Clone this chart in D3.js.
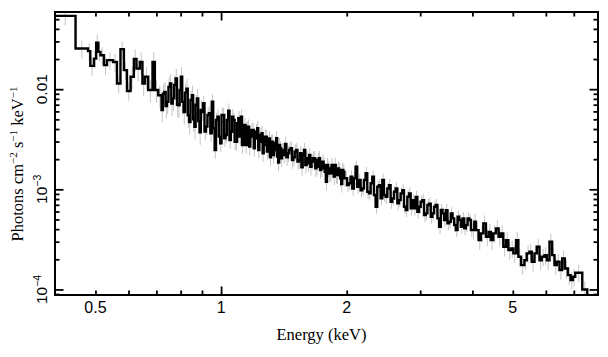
<!DOCTYPE html>
<html><head><meta charset="utf-8">
<script src="https://cdn.jsdelivr.net/npm/d3@7"></script>
<style>body{margin:0;background:#fff}</style>
</head><body>
<svg id="c" width="608" height="357"></svg>
<script>
// Bin lower edges in keV, per energy segment (last edge closes the spectrum)
const edgesSoft = [0.400, 0.448, 0.480, 0.486, 0.496, 0.502, 0.508, 0.514, 0.524, 0.533, 0.551, 0.563, 0.574,
  0.585, 0.595, 0.607, 0.618, 0.627, 0.639, 0.648, 0.657, 0.669, 0.685, 0.694, 0.707];
const edgesMid = [0.720, 0.7255, 0.731, 0.7365, 0.742, 0.748, 0.754, 0.760, 0.766, 0.772, 0.778, 0.784, 0.790,
  0.7955, 0.801, 0.807, 0.813, 0.8195, 0.826, 0.832, 0.838, 0.8445, 0.851, 0.857, 0.863, 0.869, 0.875, 0.8815,
  0.888, 0.894, 0.900];
const edgesPeak1 = [0.905, 0.9125, 0.920, 0.9275, 0.935, 0.9425, 0.950, 0.9575, 0.965, 0.9725, 0.980, 0.9875,
  0.995, 1.0025, 1.010, 1.0175, 1.025, 1.0325, 1.040, 1.0475, 1.055, 1.0625, 1.070, 1.0775, 1.085, 1.0925, 1.100,
  1.1075, 1.115, 1.1225, 1.130, 1.1375, 1.145, 1.1525, 1.160, 1.1675, 1.175, 1.1825, 1.190, 1.1975, 1.205, 1.2125,
  1.220, 1.2275, 1.235, 1.2425, 1.250, 1.2575, 1.265, 1.2725, 1.280, 1.2875, 1.295, 1.3025, 1.310, 1.3175, 1.325,
  1.3325, 1.340, 1.3475, 1.355, 1.3625, 1.370, 1.3775, 1.385, 1.3925];
const edgesPeak2 = [1.400, 1.41125, 1.4225, 1.43375, 1.445, 1.45625, 1.4675, 1.47875, 1.490, 1.50125, 1.5125,
  1.52375, 1.535, 1.54625, 1.5575, 1.56875, 1.580, 1.59125, 1.6025, 1.61375, 1.625, 1.63625, 1.6475, 1.65875,
  1.670, 1.68125, 1.6925, 1.70375, 1.715, 1.72625, 1.7375, 1.74875, 1.760, 1.77125, 1.7825, 1.79375, 1.805,
  1.81625, 1.8275, 1.83875, 1.850, 1.86125, 1.8725, 1.88375, 1.895, 1.90625, 1.9175, 1.92875, 1.940, 1.95125,
  1.9625, 1.97375];
const edgesHard1 = [1.985, 2.004, 2.024, 2.043, 2.062, 2.081, 2.100, 2.119, 2.139, 2.159, 2.179, 2.199, 2.220,
  2.240, 2.261, 2.282, 2.303, 2.324, 2.346, 2.367, 2.389, 2.411, 2.434, 2.456, 2.479, 2.502, 2.525, 2.548, 2.572,
  2.596, 2.620, 2.644, 2.669, 2.693, 2.718, 2.743, 2.769, 2.794, 2.820, 2.846, 2.873, 2.899, 2.926, 2.953, 2.981,
  3.008, 3.036, 3.064, 3.093, 3.121, 3.150, 3.179, 3.209, 3.238, 3.268, 3.299, 3.330, 3.361, 3.392, 3.423, 3.455,
  3.487, 3.519, 3.552, 3.585, 3.618, 3.652, 3.686, 3.720, 3.755, 3.790, 3.825, 3.860, 3.896, 3.932, 3.969, 4.006,
  4.042];
const edgesHard2 = [4.079, 4.140, 4.194, 4.249, 4.311, 4.375, 4.431, 4.489, 4.556, 4.624, 4.685, 4.745, 4.816,
  4.879, 4.951, 5.015, 5.090, 5.156, 5.233, 5.330, 5.400, 5.480, 5.551, 5.634, 5.707, 5.792, 5.867, 5.954, 6.033,
  6.122, 6.213, 6.293, 6.375, 6.470, 6.566, 6.664, 6.775, 6.876, 6.966, 7.056, 7.335, 7.540];
const edgeMax = 8.0;

// Photons cm^-2 s^-1 keV^-1, one per bin, same segments
const fluxSoft = [0.054, 0.0255, 0.0240, 0.0171, 0.0202, 0.0292, 0.0236, 0.0218, 0.0174, 0.0195, 0.0187, 0.0114,
  0.0251, 0.0155, 0.0096, 0.0133, 0.0200, 0.0161, 0.0187, 0.0114, 0.0133, 0.0098, 0.0187, 0.0098, 0.0087];
const fluxMid = [0.0062, 0.0090, 0.0094, 0.0068, 0.0075, 0.0105, 0.0114, 0.0072, 0.0081, 0.0110, 0.0128, 0.0070,
  0.0069, 0.0098, 0.0133, 0.0075, 0.0059, 0.0092, 0.0101, 0.0055, 0.0047, 0.0078, 0.0087, 0.0050, 0.0042, 0.0070,
  0.0081, 0.0048, 0.0037, 0.0062, 0.0059];
const fluxPeak1 = [7.24e-3, 3.77e-3, 4.23e-3, 5.53e-3, 5.75e-3, 3.63e-3, 7.52e-3, 4.07e-3, 2.47e-3, 4.93e-3,
  5.32e-3, 3.36e-3, 2.88e-3, 5.53e-3, 5.53e-3, 3.23e-3, 3.49e-3, 4.93e-3, 6.11e-3, 3.11e-3, 3.76e-3, 5.32e-3,
  4.93e-3, 2.99e-3, 2.99e-3, 4.57e-3, 5.13e-3, 3.36e-3, 5.32e-3, 2.77e-3, 3.36e-3, 4.40e-3, 2.77e-3, 4.07e-3,
  4.23e-3, 2.67e-3, 3.36e-3, 3.92e-3, 3.91e-3, 2.57e-3, 3.24e-3, 3.77e-3, 4.07e-3, 2.47e-3, 2.99e-3, 3.49e-3,
  3.63e-3, 2.29e-3, 2.77e-3, 3.36e-3, 3.36e-3, 2.38e-3, 2.57e-3, 3.23e-3, 2.09e-3, 2.99e-3, 2.99e-3, 2.20e-3,
  2.47e-3, 2.88e-3, 3.24e-3, 2.12e-3, 1.85e-3, 2.77e-3, 2.57e-3, 2.04e-3];
const fluxPeak2 = [2.47e-3, 2.20e-3, 2.84e-3, 2.09e-3, 2.29e-3, 2.47e-3, 2.57e-3, 1.96e-3, 2.09e-3, 2.38e-3,
  2.47e-3, 1.89e-3, 1.96e-3, 2.29e-3, 1.66e-3, 2.20e-3, 2.47e-3, 1.75e-3, 2.04e-3, 1.82e-3, 2.20e-3, 1.68e-3,
  1.89e-3, 2.04e-3, 2.04e-3, 1.62e-3, 1.68e-3, 1.96e-3, 2.04e-3, 1.56e-3, 1.62e-3, 1.89e-3, 1.75e-3, 1.50e-3,
  1.19e-3, 1.75e-3, 1.62e-3, 1.44e-3, 1.445e-3, 1.75e-3, 1.56e-3, 1.34e-3, 1.75e-3, 1.39e-3, 1.39e-3, 1.62e-3,
  1.56e-3, 1.29e-3, 1.13e-3, 1.56e-3, 1.50e-3, 1.29e-3];
const fluxHard1 = [1.29e-3, 1.10e-3, 1.15e-3, 1.34e-3, 1.02e-3, 1.29e-3, 1.68e-3, 1.06e-3, 1.24e-3, 9.8e-4,
  1.02e-3, 1.24e-3, 1.45e-3, 9.47e-4, 9.1e-4, 1.15e-3, 1.34e-3, 8.77e-4, 6.7e-4, 1.06e-3, 1.10e-3, 8.12e-4,
  1.24e-3, 8.77e-4, 8.4e-4, 1.02e-3, 1.10e-3, 7.52e-4, 8.1e-4, 9.47e-4, 1.02e-3, 7.24e-4, 7.8e-4, 9.1e-4,
  9.8e-4, 6.7e-4, 6.2e-4, 8.44e-4, 9.1e-4, 6.45e-4, 7.8e-4, 6.45e-4, 8.4e-4, 5.97e-4, 6.7e-4, 7.52e-4, 7.8e-4,
  5.53e-4, 5.75e-4, 6.97e-4, 7.2e-4, 5.32e-4, 5.75e-4, 6.7e-4, 6.97e-4, 5.13e-4, 4.22e-4, 6.21e-4, 5.75e-4,
  4.93e-4, 6.2e-4, 4.57e-4, 4.75e-4, 5.75e-4, 5.13e-4, 4.40e-4, 3.91e-4, 5.32e-4, 4.93e-4, 4.23e-4, 5.13e-4,
  4.07e-4, 4.39e-4, 5.13e-4, 4.93e-4, 3.92e-4, 3.91e-4, 4.75e-4];
const fluxHard2 = [3.91e-4, 3.11e-4, 3.63e-4, 4.57e-4, 3.36e-4, 3.76e-4, 3.11e-4, 3.63e-4, 4.07e-4, 3.36e-4,
  3.63e-4, 2.67e-4, 3.11e-4, 2.47e-4, 2.57e-4, 2.29e-4, 3.11e-4, 2.12e-4, 1.75e-4, 1.96e-4, 2.29e-4, 2.38e-4,
  1.89e-4, 2.29e-4, 2.67e-4, 1.96e-4, 2.12e-4, 2.20e-4, 1.96e-4, 2.99e-4, 2.20e-4, 1.75e-4, 1.89e-4, 1.56e-4,
  2.04e-4, 1.62e-4, 1.39e-4, 1.24e-4, 1.34e-4, 1.47e-4, 1.00e-4, 7.0e-5];

// Typical fractional 1-sigma error by energy band
const errBandEdges = [0.4, 0.6, 0.9, 2.0, 4.0, 8.0];
const errBandFrac  = [0.20, 0.25, 0.18, 0.15, 0.20];

const xTickValues = [0.5, 1, 2, 5];
const xTickLabels = ["0.5", "1", "2", "5"];
const xMajorTicks = [1];
const xMinorTicks = [0.5, 0.6, 0.7, 0.8, 0.9, 2, 3, 4, 5, 6, 7];
const yTickValues = [1e-2, 1e-3, 1e-4];
const yTickLabels = [["0.01", ""], ["10", "\u22123"], ["10", "\u22124"]];
const yMajorTicks = [1e-4, 1e-3, 1e-2];
const yMinorTicks = [9e-5, 2e-4, 3e-4, 4e-4, 5e-4, 6e-4, 7e-4, 8e-4, 9e-4,
                     2e-3, 3e-3, 4e-3, 5e-3, 6e-3, 7e-3, 8e-3, 9e-3, 2e-2, 3e-2, 4e-2, 5e-2];
const xTitle = "Energy (keV)";

const energyEdges = [...edgesSoft, ...edgesMid, ...edgesPeak1, ...edgesPeak2, ...edgesHard1, ...edgesHard2, edgeMax];
const photonFlux = [...fluxSoft, ...fluxMid, ...fluxPeak1, ...fluxPeak2, ...fluxHard1, ...fluxHard2];

const L = 55, R = 598, T = 12, B = 295;
const svg = d3.select("#c");
const x = d3.scaleLog().domain([0.4, 8]).range([L, R]);
const y = d3.scaleLog().domain([8.8e-5, 0.059]).range([B, T]);

svg.append("defs").append("clipPath").attr("id", "clip")
  .append("rect").attr("x", L).attr("y", T).attr("width", R - L).attr("height", B - T);

const bins = photonFlux.map((f, i) => ({lo: energyEdges[i], hi: energyEdges[i + 1], f}))
  .filter(d => d.hi !== undefined);
const plot = svg.append("g").attr("clip-path", "url(#clip)");

function errFrac(e) {
  for (let i = 0; i < errBandFrac.length; i++) if (e < errBandEdges[i + 1]) return errBandFrac[i];
  return errBandFrac[errBandFrac.length - 1];
}
plot.append("g").selectAll("line").data(bins).join("line")
  .attr("x1", d => x(Math.sqrt(d.lo * d.hi))).attr("x2", d => x(Math.sqrt(d.lo * d.hi)))
  .attr("y1", d => y(d.f * (1 + errFrac(d.lo))))
  .attr("y2", d => y(d.f * (1 - errFrac(d.lo))))
  .attr("stroke", "#c4c4c4").attr("stroke-width", 1);

const pts = [];
bins.forEach(d => { pts.push([d.lo, d.f]); pts.push([d.hi, d.f]); });
plot.append("path").datum(pts)
  .attr("d", d3.line().x(d => x(d[0])).y(d => y(d[1])))
  .attr("fill", "none").attr("stroke", "#000").attr("stroke-width", 2.4)
  .attr("stroke-linejoin", "miter");

function styleAxis(g) {
  g.select(".domain").remove();
  g.selectAll("line").attr("stroke", "#000").attr("stroke-width", 1.8);
  g.selectAll("text").remove();
}
const minorLen = 4.5, majorLen = 8.5;
svg.append("g").attr("transform", `translate(0,${B})`)
  .call(d3.axisBottom(x).tickValues(xMinorTicks).tickSize(-minorLen)).call(styleAxis);
svg.append("g").attr("transform", `translate(0,${B})`)
  .call(d3.axisBottom(x).tickValues(xMajorTicks).tickSize(-majorLen)).call(styleAxis);
svg.append("g").attr("transform", `translate(0,${T})`)
  .call(d3.axisTop(x).tickValues(xMinorTicks).tickSize(-minorLen)).call(styleAxis);
svg.append("g").attr("transform", `translate(0,${T})`)
  .call(d3.axisTop(x).tickValues(xMajorTicks).tickSize(-majorLen)).call(styleAxis);
svg.append("g").attr("transform", `translate(${L},0)`)
  .call(d3.axisLeft(y).tickValues(yMinorTicks).tickSize(-minorLen)).call(styleAxis);
svg.append("g").attr("transform", `translate(${L},0)`)
  .call(d3.axisLeft(y).tickValues(yMajorTicks).tickSize(-majorLen)).call(styleAxis);
svg.append("g").attr("transform", `translate(${R},0)`)
  .call(d3.axisRight(y).tickValues(yMinorTicks).tickSize(-minorLen)).call(styleAxis);
svg.append("g").attr("transform", `translate(${R},0)`)
  .call(d3.axisRight(y).tickValues(yMajorTicks).tickSize(-majorLen)).call(styleAxis);

svg.append("rect").attr("x", L).attr("y", T).attr("width", R - L).attr("height", B - T)
  .attr("fill", "none").attr("stroke", "#000").attr("stroke-width", 2);

const sans = "'Liberation Sans', Arial, Helvetica, sans-serif";
const serif = "'Liberation Serif', 'Times New Roman', serif";
svg.append("g").selectAll("text").data(xTickValues).join("text")
  .attr("x", d => x(d)).attr("y", 313).attr("text-anchor", "middle")
  .attr("font-family", sans).attr("font-size", 16).attr("fill", "#000")
  .text((d, i) => xTickLabels[i]);

yTickValues.forEach((v, i) => {
  const t = svg.append("text")
    .attr("transform", `translate(47,${y(v)}) rotate(-90)`)
    .attr("text-anchor", "middle").attr("font-family", sans).attr("font-size", 15.5).attr("fill", "#000");
  t.append("tspan").text(yTickLabels[i][0]);
  if (yTickLabels[i][1]) t.append("tspan").attr("dy", -6).attr("font-size", 10.5).text(yTickLabels[i][1]);
});

svg.append("text").attr("x", 321.5).attr("y", 340).attr("text-anchor", "middle")
  .attr("font-family", serif).attr("font-size", 16.5).attr("fill", "#000").text(xTitle);

const yt = svg.append("text").attr("transform", "translate(23,164) rotate(-90)")
  .attr("text-anchor", "middle").attr("font-family", serif).attr("font-size", 16.5).attr("fill", "#000");
const yParts = [["Photons cm", 0], ["\u22122", 1], [" s", 0], ["\u22121", 1], [" keV", 0], ["\u22121", 1]];
yParts.forEach(([s, sup]) => {
  const ts = yt.append("tspan").text(s);
  if (sup) ts.attr("font-size", 11).attr("baseline-shift", "6");
});
</script>
</body></html>
